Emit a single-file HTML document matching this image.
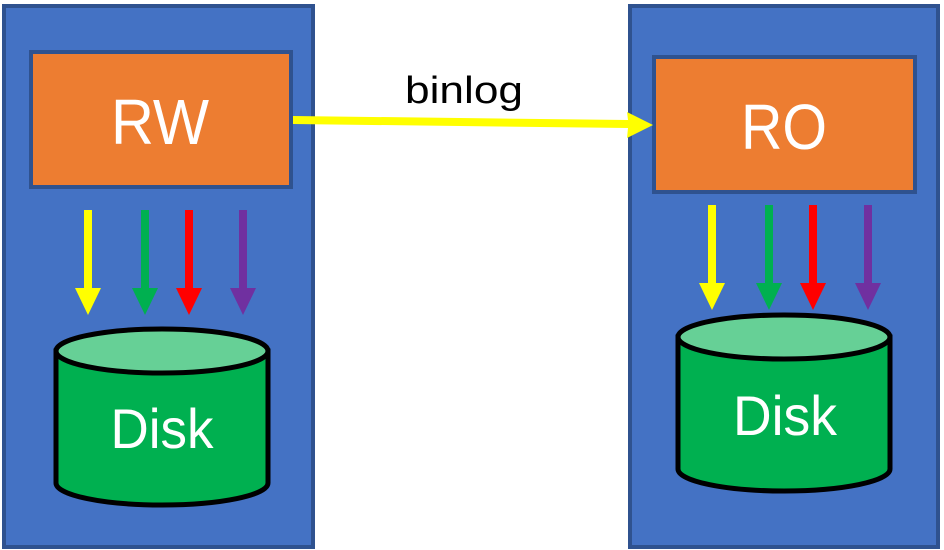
<!DOCTYPE html>
<html><head><meta charset="utf-8"><style>
html,body{margin:0;padding:0;background:#fff;}
svg{display:block;}
text{font-family:"Liberation Sans",sans-serif;}
</style></head><body>
<svg width="944" height="550" viewBox="0 0 944 550" xmlns="http://www.w3.org/2000/svg">
<!-- panels -->
<rect x="4" y="6" width="309" height="541" fill="#4472c4" stroke="#2f528f" stroke-width="4"/>
<rect x="630" y="6" width="308" height="541" fill="#4472c4" stroke="#2f528f" stroke-width="4"/>
<!-- boxes -->
<rect x="31" y="52" width="260" height="135" fill="#ed7d31" stroke="#2f528f" stroke-width="4"/>
<rect x="654" y="57" width="261" height="135" fill="#ed7d31" stroke="#2f528f" stroke-width="4"/>
<text x="160" y="144" font-size="64" fill="#fff" text-anchor="middle" textLength="98" lengthAdjust="spacingAndGlyphs">RW</text>
<text x="784" y="149" font-size="64" fill="#fff" text-anchor="middle" textLength="86" lengthAdjust="spacingAndGlyphs">RO</text>
<!-- binlog -->
<text x="464" y="103" font-size="38" fill="#000" text-anchor="middle" textLength="118" lengthAdjust="spacingAndGlyphs">binlog</text>
<polygon points="293,116 628,120 627,112 653,125 627,138 628,128 293,124" fill="#ffff00"/>
<!-- left arrows -->
<g>
<rect x="84" y="210" width="8" height="79" fill="#ffff00"/><polygon points="75,288 101,288 88,315" fill="#ffff00"/>
<rect x="141" y="210" width="8" height="79" fill="#00b050"/><polygon points="132,288 158,288 145,315" fill="#00b050"/>
<rect x="185" y="210" width="8" height="79" fill="#ff0000"/><polygon points="176,288 202,288 189,315" fill="#ff0000"/>
<rect x="239" y="210" width="8" height="79" fill="#7030a0"/><polygon points="230,288 256,288 243,315" fill="#7030a0"/>
</g>
<!-- right arrows -->
<g>
<rect x="708" y="205" width="8" height="79" fill="#ffff00"/><polygon points="699,283 725,283 712,310" fill="#ffff00"/>
<rect x="765" y="205" width="8" height="79" fill="#00b050"/><polygon points="756,283 782,283 769,310" fill="#00b050"/>
<rect x="809" y="205" width="8" height="79" fill="#ff0000"/><polygon points="800,283 826,283 813,310" fill="#ff0000"/>
<rect x="864" y="205" width="8" height="79" fill="#7030a0"/><polygon points="855,283 881,283 868,310" fill="#7030a0"/>
</g>
<!-- left cylinder -->
<path d="M56,351 L56,483 A106,22 0 0 0 268,483 L268,351 Z" fill="#00b050" stroke="#000" stroke-width="5"/>
<ellipse cx="162" cy="351" rx="106" ry="22" fill="#66d096" stroke="#000" stroke-width="5"/>
<text x="162" y="448" font-size="56" fill="#fff" text-anchor="middle" textLength="103" lengthAdjust="spacingAndGlyphs">Disk</text>
<!-- right cylinder -->
<path d="M678,337 L678,469 A106,22 0 0 0 890,469 L890,337 Z" fill="#00b050" stroke="#000" stroke-width="5"/>
<ellipse cx="784" cy="337" rx="106" ry="22" fill="#66d096" stroke="#000" stroke-width="5"/>
<text x="785" y="435" font-size="56" fill="#fff" text-anchor="middle" textLength="104" lengthAdjust="spacingAndGlyphs">Disk</text>
</svg>
</body></html>
